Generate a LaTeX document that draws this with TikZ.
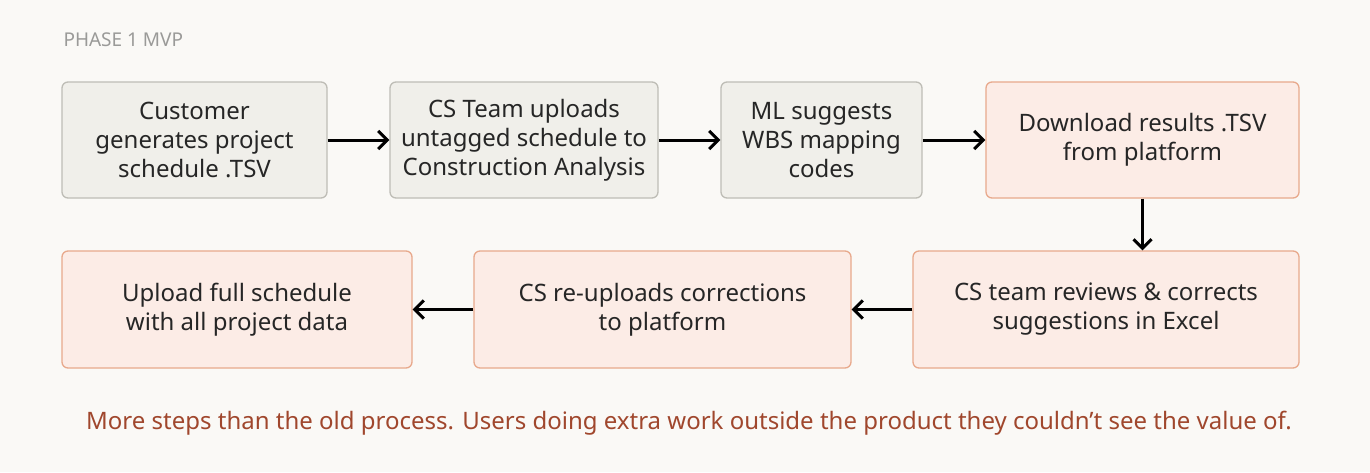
\documentclass[tikz,border=0pt]{standalone}
\usepackage{fontspec}
\usetikzlibrary{arrows.meta}
\setmainfont{Noto Sans}
\definecolor{bg}{HTML}{FAF9F6}
\definecolor{gfill}{HTML}{F0EFEA}
\definecolor{gdraw}{HTML}{BEBDB6}
\definecolor{pfill}{HTML}{FCECE6}
\definecolor{pdraw}{HTML}{E8A98C}
\definecolor{cap}{HTML}{A0472D}
\definecolor{ttl}{HTML}{9A9A98}
\begin{document}
\begin{tikzpicture}[x=1pt,y=-1pt,
 box/.style={rounded corners=6pt,line width=1.3pt,align=center,font=\fontsize{24}{29}\selectfont,text=black!85,inner sep=0pt},
 g/.style={box,fill=gfill,draw=gdraw},
 p/.style={box,fill=pfill,draw=pdraw},
 arr/.style={-{Straight Barb[length=9pt,width=18pt]},line width=3pt,black}]
\fill[bg] (0,0) rectangle (1370,472);
\useasboundingbox (0,0) rectangle (1370,472);
\node[anchor=west,text=ttl,font=\fontsize{19}{20}\selectfont\bfseries] (t) at (60,40) {PHASE 1 MVP};
\node[g,minimum width=265pt,minimum height=116pt] (a) at (194.5,140) {Customer\\generates project\\schedule .TSV};
\node[g,minimum width=268pt,minimum height=116pt] (b) at (524,140) {CS Team uploads\\untagged schedule to\\Construction Analysis};
\node[g,minimum width=201pt,minimum height=116pt] (c) at (821.5,140) {ML suggests\\WBS mapping\\codes};
\node[p,minimum width=313pt,minimum height=116pt] (d) at (1142.5,140) {Download results .TSV\\from platform};
\node[p,minimum width=386pt,minimum height=117pt] (e) at (1106,309.5) {CS team reviews \& corrects\\suggestions in Excel};
\node[p,minimum width=377pt,minimum height=117pt] (f) at (662.5,309.5) {CS re-uploads corrections\\to platform};
\node[p,minimum width=350pt,minimum height=117pt] (h) at (237,309.5) {Upload full schedule\\with all project data};
\draw[arr] (a) -- (b);
\draw[arr] (b) -- (c);
\draw[arr] (c) -- (d);
\draw[arr] (d.south) -- (d.south |- e.north);
\draw[arr] (e) -- (f);
\draw[arr] (f) -- (h);
\node[text=cap,font=\fontsize{24}{26}\selectfont] (n) at (689,423) {More steps than the old process. Users doing extra work outside the product they couldn't see the value of.};
\end{tikzpicture}
\end{document}
